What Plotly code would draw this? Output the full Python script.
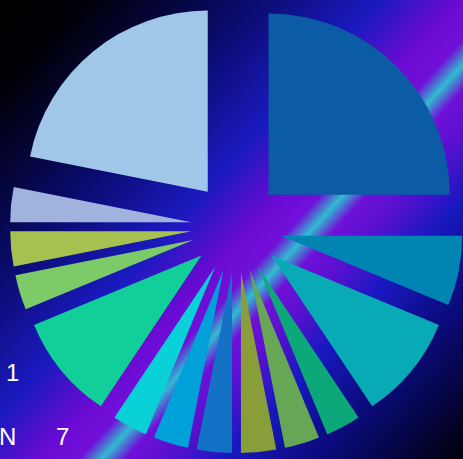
import base64
import plotly.graph_objects as go

labels = ["A", "B", "C", "D", "E", "F", "G", "H", "I", "J", "K", "L", "M", "N"]
values = [8, 2, 3, 1, 1, 1, 1, 1, 1, 3, 1, 1, 1, 7]
colors = ["#0b5ca4", "#0085b3", "#08abb5", "#0ca87a", "#66a655", "#899d3a",
          "#1372c6", "#00a0d8", "#0ad0d8", "#12cf9a", "#7dcb68", "#a6c150",
          "#a0b2de", "#a0c6e8"]
ann_texts = ["1", "N", "7"]

W, H = 463, 459

stops = [(0.00, "#000000"), (0.10, "#000008"), (0.28, "#0a0a6a"), (0.43, "#1a1ac0"),
         (0.52, "#6a0ad2"), (0.565, "#7010d8"), (0.591, "#30bcd0"), (0.617, "#7010d8"),
         (0.66, "#5a10d0"), (0.73, "#1818c0"), (0.84, "#0a0a78"), (1.00, "#000008")]
stop_xml = "".join(f'<stop offset="{o}" stop-color="{c}"/>' for o, c in stops)
svg = (f'<svg xmlns="http://www.w3.org/2000/svg" width="{W}" height="{H}" viewBox="0 0 {W} {H}" '
       f'preserveAspectRatio="none"><defs><linearGradient id="g" gradientUnits="userSpaceOnUse" '
       f'x1="0" y1="0" x2="480.5" y2="440">{stop_xml}</linearGradient></defs>'
       f'<rect width="{W}" height="{H}" fill="url(#g)"/></svg>')
src = "data:image/svg+xml;base64," + base64.b64encode(svg.encode()).decode()

S = 453.0          # pie box size in px
CX, CY = 236.5, 226.8
fig = go.Figure(go.Pie(
    labels=labels, values=values,
    marker=dict(colors=colors, line=dict(width=0)),
    pull=0.25, sort=False, direction="clockwise", rotation=0,
    textinfo="none", hoverinfo="label+value",
    domain=dict(x=[(CX - S / 2) / W, min(1.0, (CX + S / 2) / W)],
                y=[(H - CY - S / 2) / H, min(1.0, (H - CY + S / 2) / H)]),
))

ann_pos = [(12, 372), (7.5, 436), (62, 436)]
annotations = [dict(text=t, x=px / W, y=1 - py / H, xref="paper", yref="paper",
                    xanchor="center", yanchor="middle", showarrow=False,
                    font=dict(color="white", size=24, family="Liberation Sans, Arial, sans-serif"))
               for t, (px, py) in zip(ann_texts, ann_pos)]

fig.update_layout(
    width=W, height=H, autosize=False,
    margin=dict(l=0, r=0, t=0, b=0),
    paper_bgcolor="#000000", plot_bgcolor="#000000",
    showlegend=False,
    images=[dict(source=src, xref="paper", yref="paper", x=0, y=1, sizex=1, sizey=1,
                 sizing="stretch", xanchor="left", yanchor="top", layer="below")],
    annotations=annotations,
)

fig.write_html("out.html", config={"displayModeBar": False},
               post_script="document.body.style.margin='0';")
